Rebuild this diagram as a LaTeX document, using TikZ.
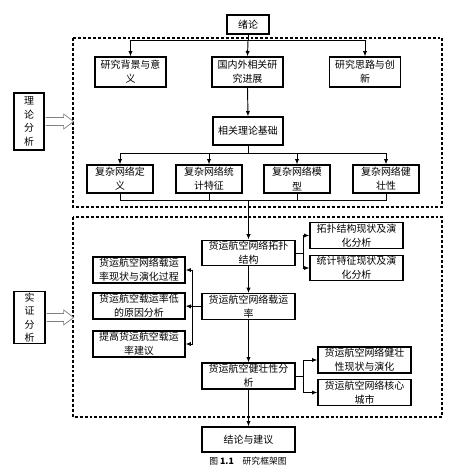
\documentclass[tikz,border=0pt]{standalone}
\usepackage{fontspec}
\setmainfont{Noto Sans CJK SC}
\usetikzlibrary{arrows.meta}

\begin{document}
\begin{tikzpicture}[x=0.03cm, y=-0.03cm,
	box/.style={rectangle, draw, line width=1.1pt, inner sep=1pt, align=center, font=\fontsize{8.5}{12}\selectfont},
	wide/.style={box, minimum width=2.79cm, minimum height=0.76cm},
	link/.style={line width=0.8pt},
	arr/.style={link, -{Latex[length=1.6mm, width=1.3mm]}},
	frame/.style={dashed, line width=1.1pt, dash pattern=on 2.5pt off 1.7pt},
	fatarrow/.style={draw=gray, line width=0.6pt, fill=white}]

	\useasboundingbox (0,0) rectangle (451,473);

	% --- Frames ---
	\draw[frame] (73,38) rectangle (442,207);
	\draw[frame] (73,217) rectangle (442,417);

	% --- Theory part ---
	\node[box, minimum width=1.26cm, minimum height=0.57cm] (intro) at (248,24.5) {绪论};
	\node[box, minimum width=2.13cm, minimum height=0.9cm] (bg) at (130.5,72) {研究背景与意\\义};
	\node[box, minimum width=2.13cm, minimum height=0.9cm] (prog) at (247.5,72) {国内外相关研\\究进展};
	\node[box, minimum width=2.13cm, minimum height=0.9cm] (idea) at (365,72) {研究思路与创\\新};
	\node[box, minimum width=2.1cm, minimum height=0.84cm] (base) at (248,131) {相关理论基础};

	\node[box, minimum width=1.98cm, minimum height=0.84cm] (d1) at (120,179) {复杂网络定\\义};
	\node[box, minimum width=1.98cm, minimum height=0.84cm] (d2) at (209,179) {复杂网络统\\计特征};
	\node[box, minimum width=1.98cm, minimum height=0.84cm] (d3) at (297,179) {复杂网络模\\型};
	\node[box, minimum width=1.98cm, minimum height=0.84cm] (d4) at (386,179) {复杂网络健\\壮性};

	\node[box, minimum width=0.9cm, minimum height=1.71cm, font=\fontsize{8.5}{11.5}\selectfont] (theo) at (29,121.5) {理\\论\\分\\析};
	\draw[fatarrow, shift={(theo.east)}] (1,-4) -- (19,-4) -- (19,-7.5) -- (29,0) -- (19,7.5) -- (19,4) -- (1,4);

	\draw[link] (intro.south) -- ++(0,6) coordinate (top);
	\draw[arr] (top) -| (bg.north);
	\draw[arr] (top) -- (prog.north);
	\draw[arr] (top) -| (idea.north);
	\draw[arr] (prog.south) -- (base.north);

	\draw[link] (base.south) -- ++(0,8) coordinate (split);
	\draw[arr] (split) -| (d1.north);
	\draw[arr] (split) -| (d2.north);
	\draw[arr] (split) -| (d3.north);
	\draw[arr] (split) -| (d4.north);

	\draw[link] (d1.south) -- ++(0,7) coordinate (gather) -| (d4.south);
	\draw[link] (d2.south) -- (d2.south |- gather);
	\draw[link] (d3.south) -- (d3.south |- gather);

	% --- Empirical part ---
	\node[wide] (topo) at (248.5,253) {货运航空网络拓扑\\结构};
	\node[wide, minimum height=0.75cm] (t1) at (356.5,235.5) {拓扑结构现状及演\\化分析};
	\node[wide, minimum height=0.72cm] (t2) at (356.5,268) {统计特征现状及演\\化分析};

	\node[wide, minimum height=0.75cm] (load) at (248.5,306.5) {货运航空网络载运\\率};
	\node[wide, minimum width=2.76cm, minimum height=0.78cm] (l1) at (139,270) {货运航空网络载运\\率现状与演化过程};
	\node[wide, minimum width=2.76cm, minimum height=0.78cm] (l2) at (139,306) {货运航空载运率低\\的原因分析};
	\node[wide, minimum width=2.76cm, minimum height=0.78cm] (l3) at (139,344) {提高货运航空载运\\率建议};

	\node[wide, minimum height=0.78cm] (robust) at (248.5,376) {货运航空健壮性分\\析};
	\node[wide, minimum height=0.78cm] (r1) at (364.5,360) {货运航空网络健壮\\性现状与演化};
	\node[wide, minimum height=0.75cm] (r2) at (364.5,392.5) {货运航空网络核心\\城市};

	\node[box, minimum width=0.93cm, minimum height=1.53cm, font=\fontsize{8.5}{11.5}\selectfont] (emp) at (29.5,317.5) {实\\证\\分\\析};
	\draw[fatarrow, shift={(emp.east)}] (1,-4) -- (18,-4) -- (18,-7.5) -- (28,0) -- (18,7.5) -- (18,4) -- (1,4);

	\draw[arr] (gather -| topo.north) -- (topo.north);
	\draw[link] (topo.east) -- ++(8,0) coordinate (tfork);
	\draw[arr] (tfork) |- (t1.west);
	\draw[arr] (tfork) |- (t2.west);

	\draw[arr] (topo.south) -- (load.north);
	\draw[link] (load.west) -- ++(-9,0) coordinate (lfork);
	\draw[arr] (lfork) |- (l1.east);
	\draw[arr] (lfork) -- (l2.east);
	\draw[arr] (lfork) |- (l3.east);

	\draw[arr] (load.south) -- (robust.north);
	\draw[link] (robust.east) -- ++(8,0) coordinate (rfork);
	\draw[arr] (rfork) |- (r1.west);
	\draw[arr] (rfork) |- (r2.west);

	% --- Conclusion ---
	\node[wide, minimum height=0.75cm] (concl) at (248.5,439.5) {结论与建议};
	\draw[arr] (robust.south) -- (concl.north);

	\node[font=\fontsize{7.5}{9}\selectfont] (cap) at (248,461) {图 \textbf{1.1}\quad 研究框架图};
\end{tikzpicture}
\end{document}
